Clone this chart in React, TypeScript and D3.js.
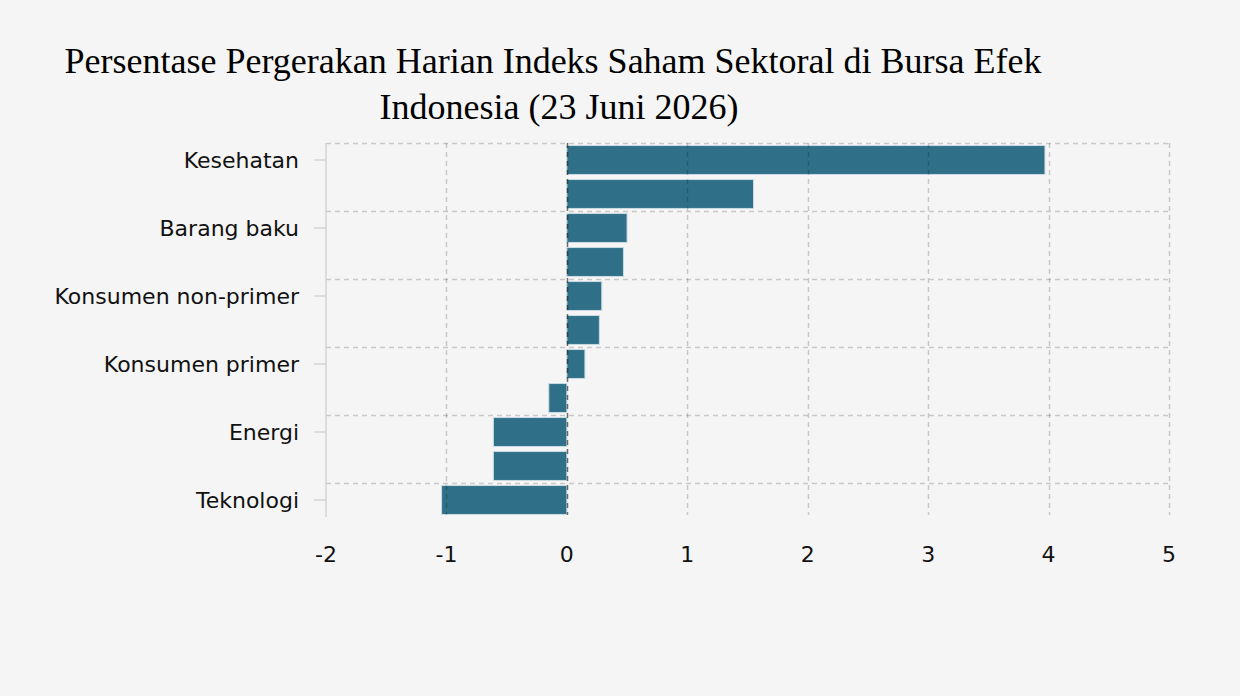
import React, { useEffect, useRef } from 'react';
import * as d3 from 'd3';

// sektor, dari atas ke bawah (hanya indeks genap yang diberi label pada grafik)
const sectors = [
  'Kesehatan',
  'Keuangan',
  'Barang baku',
  'Perindustrian',
  'Konsumen non-primer',
  'Infrastruktur',
  'Konsumen primer',
  'Properti & real estat',
  'Energi',
  'Transportasi & logistik',
  'Teknologi',
];
const changes = [3.97, 1.55, 0.5, 0.47, 0.29, 0.27, 0.15, -0.15, -0.61, -0.61, -1.04];
const xTicks = [-2, -1, 0, 1, 2, 3, 4, 5];
const titleLines = [
  'Persentase Pergerakan Harian Indeks Saham Sektoral di Bursa Efek',
  'Indonesia (23 Juni 2026)',
];

const W = 1240;
const H = 696;

const App: React.FC = () => {
  const svgRef = useRef<SVGSVGElement>(null);

  useEffect(() => {
    document.body.style.margin = '0';
    document.body.style.background = '#f5f5f5';
    if (!svgRef.current) return;
    const svg = d3.select(svgRef.current);
    svg.selectAll('*').remove();

    const left = 326;
    const right = 1169;
    const top = 143;
    const bottom = 517;

    const x = d3.scaleLinear().domain([-2, 5]).range([left, right]);
    const y = d3
      .scaleBand<number>()
      .domain(d3.range(sectors.length))
      .range([top, bottom])
      .paddingInner(0.15)
      .paddingOuter(0.075);
    const step = y.step();
    const rows = sectors.map((s, i) => ({ s, v: changes[i], i }));

    svg.append('rect').attr('width', W).attr('height', H).attr('fill', '#f5f5f5');

    // title (second line sits a touch right of the first)
    svg
      .append('g')
      .selectAll('text')
      .data(titleLines)
      .join('text')
      .attr('x', (_, i) => (i === 0 ? 553 : 559))
      .attr('y', (_, i) => 73 + i * 46)
      .attr('text-anchor', 'middle')
      .attr('font-family', '"Liberation Serif", "Times New Roman", serif')
      .attr('font-size', 36)
      .attr('fill', '#000')
      .text(d => d);

    // bars
    svg
      .append('g')
      .selectAll('rect')
      .data(rows)
      .join('rect')
      .attr('x', d => x(Math.min(0, d.v)))
      .attr('y', d => y(d.i)!)
      .attr('width', d => Math.abs(x(d.v) - x(0)))
      .attr('height', y.bandwidth())
      .attr('fill', '#2f7088')
      .attr('stroke', '#c9dbe2')
      .attr('stroke-width', 1);

    const labelled = rows.filter(d => d.i % 2 === 0);
    const grid = svg.append('g').attr('fill', 'none');

    // horizontal grid, at top of each labelled pair
    grid
      .selectAll('line.h')
      .data(labelled)
      .join('line')
      .attr('class', 'h')
      .attr('x1', left)
      .attr('x2', right)
      .attr('y1', d => top + d.i * step + 0.5)
      .attr('y2', d => top + d.i * step + 0.5)
      .attr('stroke', 'rgba(0,0,0,0.18)')
      .attr('stroke-width', 1.5)
      .attr('stroke-dasharray', '5,4');

    // vertical grid
    grid
      .selectAll('line.v')
      .data(xTicks.filter(t => t > -2))
      .join('line')
      .attr('class', 'v')
      .attr('x1', d => Math.round(x(d)) + 0.5)
      .attr('x2', d => Math.round(x(d)) + 0.5)
      .attr('y1', top)
      .attr('y2', bottom - 2)
      .attr('stroke', d => (d === 0 ? 'rgba(0,0,0,0.55)' : 'rgba(0,0,0,0.18)'))
      .attr('stroke-width', 1.5)
      .attr('stroke-dasharray', '5,4');

    // left axis
    svg
      .append('line')
      .attr('x1', left)
      .attr('x2', left)
      .attr('y1', top)
      .attr('y2', bottom)
      .attr('stroke', '#d3d3d3')
      .attr('stroke-width', 1.5);

    const yAxis = svg.append('g');
    yAxis
      .selectAll('line')
      .data(labelled)
      .join('line')
      .attr('x1', left - 12)
      .attr('x2', left)
      .attr('y1', d => y(d.i)! + y.bandwidth() / 2)
      .attr('y2', d => y(d.i)! + y.bandwidth() / 2)
      .attr('stroke', '#d3d3d3')
      .attr('stroke-width', 1.5);
    yAxis
      .selectAll('text')
      .data(labelled)
      .join('text')
      .attr('x', left - 27)
      .attr('y', d => y(d.i)! + y.bandwidth() / 2)
      .attr('dy', '0.35em')
      .attr('text-anchor', 'end')
      .attr('font-family', '"DejaVu Sans", Verdana, sans-serif')
      .attr('font-size', 22)
      .attr('fill', '#111')
      .text(d => d.s);

    // x tick labels
    svg
      .append('g')
      .selectAll('text')
      .data(xTicks)
      .join('text')
      .attr('x', d => x(d))
      .attr('y', 562)
      .attr('text-anchor', 'middle')
      .attr('font-family', '"DejaVu Sans", Verdana, sans-serif')
      .attr('font-size', 22)
      .attr('fill', '#111')
      .text(d => String(d));
  }, []);

  return (
    <div style={{ position: 'absolute', left: 0, top: 0, width: W, height: H }}>
      <svg ref={svgRef} width={W} height={H} style={{ display: 'block' }} />
    </div>
  );
};

export default App;
